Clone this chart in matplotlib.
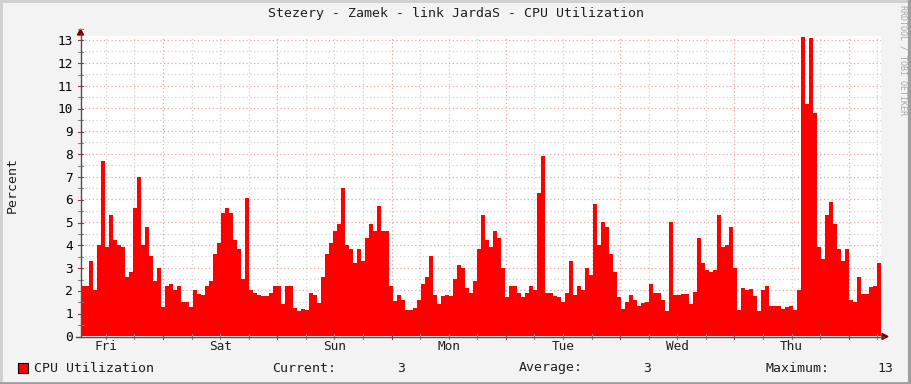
import matplotlib

matplotlib.use("Agg")
import matplotlib.pyplot as plt
import numpy as np
from matplotlib.patches import Polygon
from matplotlib.transforms import blended_transform_factory

# CPU utilisation (%), one value per ~50 min bin, Fri 06:47 -> Fri 06:47
cpu = [
    2.2, 2.2, 3.3, 2.0, 4.0, 7.7, 3.9, 5.3, 4.2, 4.0,
    3.9, 2.6, 2.8, 5.6, 7.0, 4.0, 4.8, 3.5, 2.4, 3.0,
    1.27, 2.2, 2.27, 2.0, 2.2, 1.5, 1.5, 1.27, 2.0, 1.85,
    1.8, 2.2, 2.4, 3.6, 4.1, 5.4, 5.6, 5.4, 4.2, 3.8,
    2.5, 6.05, 2.0, 1.9, 1.8, 1.75, 1.75, 1.9, 2.2, 2.2,
    1.4, 2.2, 2.2, 1.25, 1.1, 1.2, 1.15, 1.9, 1.8, 1.45,
    2.6, 3.6, 4.1, 4.6, 4.9, 6.5, 4.0, 3.8, 3.2, 3.8,
    3.3, 4.3, 4.9, 4.6, 5.7, 4.6, 4.6, 2.2, 1.55, 1.8,
    1.6, 1.15, 1.15, 1.25, 1.6, 2.3, 2.6, 3.5, 1.8, 1.4,
    1.75, 1.8, 1.75, 2.5, 3.1, 3.0, 2.1, 1.9, 2.4, 3.8,
    5.3, 4.2, 3.9, 4.6, 4.3, 3.0, 1.7, 2.2, 2.2, 1.9,
    1.7, 1.9, 2.2, 2.0, 6.3, 7.9, 1.9, 1.9, 1.75, 1.7,
    1.5, 1.9, 3.3, 1.8, 2.2, 2.0, 3.0, 2.7, 5.8, 4.0,
    5.0, 4.8, 3.6, 2.8, 1.7, 1.2, 1.5, 1.8, 1.6, 1.3,
    1.45, 1.5, 2.3, 1.9, 1.9, 1.6, 1.1, 5.0, 1.8, 1.8,
    1.85, 1.85, 1.4, 1.95, 4.3, 3.2, 2.9, 2.8, 2.9, 5.3,
    3.9, 4.0, 4.8, 3.0, 1.14, 2.1, 2.0, 2.05, 1.75, 1.11,
    2.0, 2.2, 1.3, 1.3, 1.3, 1.2, 1.26, 1.3, 1.15, 2.0,
    13.15, 10.2, 13.1, 9.8, 3.9, 3.4, 5.3, 5.9, 4.9, 3.8,
    3.3, 3.8, 1.6, 1.5, 2.6, 1.85, 1.85, 2.15, 2.2, 3.2,
]
days = ["Fri", "Sat", "Sun", "Mon", "Tue", "Wed", "Thu"]
title = "Stezery - Zamek - link JardaS - CPU Utilization"
current, average, maximum = "3", "3", "13"

start_h = 6.78          # hours after Friday 00:00
span_h = 168.0
bin_h = span_h / len(cpu)
t = start_h + (np.arange(len(cpu)) + 0.5) * bin_h
t = np.r_[start_h, t, start_h + span_h]
v = np.r_[cpu[0], cpu, cpu[-1]]

W, H = 911, 384
fig = plt.figure(figsize=(W / 100, H / 100), dpi=100)
fig.patch.set_facecolor("#F3F3F3")

# 3d-ish frame like rrdtool
fig.add_artist(plt.Line2D([0.5 / W, 0.5 / W], [0, 1], color="#CFCFCF", lw=2))
fig.add_artist(plt.Line2D([0, 1], [1 - 0.5 / H, 1 - 0.5 / H], color="#CFCFCF", lw=2))
fig.add_artist(plt.Line2D([1 - 1.5 / W, 1 - 1.5 / W], [0, 1], color="#9E9E9E", lw=3))
fig.add_artist(plt.Line2D([0, 1], [1.0 / H, 1.0 / H], color="#9E9E9E", lw=2))

ax = fig.add_axes([81 / W, 48 / H, 800 / W, 300 / H])
ax.set_facecolor("white")
ax.set_xlim(start_h, start_h + span_h)
ax.set_ylim(0, 300 / 22.77)

# grid
mono = "DejaVu Sans Mono"
for hx in np.arange(0, 200, 6):
    if start_h < hx < start_h + span_h:
        major = hx % 24 == 0
        ax.axvline(hx, color="#E8A6A6" if major else "#D2D2D2",
                   lw=0.9, ls=(0, (1, 2)), zorder=0)
for yy in np.arange(0.5, 13.6, 0.5):
    major = yy % 1 == 0
    ax.axhline(yy, color="#E8A6A6" if major else "#D2D2D2",
               lw=0.9, ls=(0, (1, 2)), zorder=0)

ax.fill_between(t, v, step="mid", color="#FF0000", lw=0, zorder=2)

for s in ax.spines.values():
    s.set_visible(False)
ax.set_xticks([])
ax.set_yticks(range(14))
ax.set_yticklabels([str(i) for i in range(14)], family=mono, fontsize=9.2)
ax.tick_params(axis="y", length=0, pad=6)

# axis lines + arrows
px = lambda x: x / W
py = lambda y: 1 - y / H
fig.add_artist(plt.Line2D([px(80.5), px(80.5)], [py(336), py(34)], color="#505050", lw=1, zorder=5))
fig.add_artist(plt.Line2D([px(76), px(884)], [py(336.5), py(336.5)], color="#505050", lw=1, zorder=5))
fig.add_artist(Polygon([[px(77.5), py(35)], [px(83.5), py(35)], [px(80.5), py(29)]],
                       closed=True, color="#7F0000", transform=fig.transFigure))
fig.add_artist(Polygon([[px(882), py(333.5)], [px(882), py(339.5)], [px(888), py(336.5)]],
                       closed=True, color="#7F0000", transform=fig.transFigure))

# small tick marks on axes
for yy in np.arange(0, 13.6, 0.5):
    y0 = py(336.5 - yy * 22.77)
    fig.add_artist(plt.Line2D([px(78), px(83)], [y0, y0], color="#8C4040" if yy % 1 == 0 else "#888888", lw=0.8))
for hx in np.arange(0, 200, 6):
    if start_h < hx < start_h + span_h:
        x0 = px(81 + (hx - start_h) * 800 / span_h)
        fig.add_artist(plt.Line2D([x0, x0], [py(334), py(339)],
                                  color="#8C4040" if hx % 24 == 0 else "#888888", lw=0.8))

# day labels at noon
trans = blended_transform_factory(ax.transData, fig.transFigure)
for k, d in enumerate(days):
    ax.text(12 + 24 * k, py(346), d, transform=trans, ha="center", va="center",
            family=mono, fontsize=9.2, color="#202020")

fig.text(0.5, py(14), title, ha="center", va="center", family=mono, fontsize=9.5, color="#202020")
fig.text(px(12), py(185), "Percent", rotation=90, ha="center", va="center",
         family=mono, fontsize=9.5, color="#202020")
fig.text(px(903), py(5), "RRDTOOL / TOBI OETIKER", rotation=-90, ha="center", va="top",
         family=mono, fontsize=6, color="#A8A8A8")

# legend
fig.add_artist(plt.Rectangle((px(18), py(373)), 10 / W, 10 / H, facecolor="#FF0000",
                             edgecolor="black", lw=0.8, transform=fig.transFigure))
ly = py(368)
fig.text(px(34), ly, "CPU Utilization", va="center", family=mono, fontsize=9.5, color="#202020")
fig.text(px(272), ly, "Current:", va="center", family=mono, fontsize=9.5, color="#202020")
fig.text(px(405), ly, current, va="center", ha="right", family=mono, fontsize=9.5, color="#202020")
fig.text(px(519), ly, "Average:", va="center", family=mono, fontsize=9.5, color="#202020")
fig.text(px(651), ly, average, va="center", ha="right", family=mono, fontsize=9.5, color="#202020")
fig.text(px(765), ly, "Maximum:", va="center", family=mono, fontsize=9.5, color="#202020")
fig.text(px(893), ly, maximum, va="center", ha="right", family=mono, fontsize=9.5, color="#202020")

fig.savefig("out.png", dpi=100, facecolor=fig.get_facecolor())
